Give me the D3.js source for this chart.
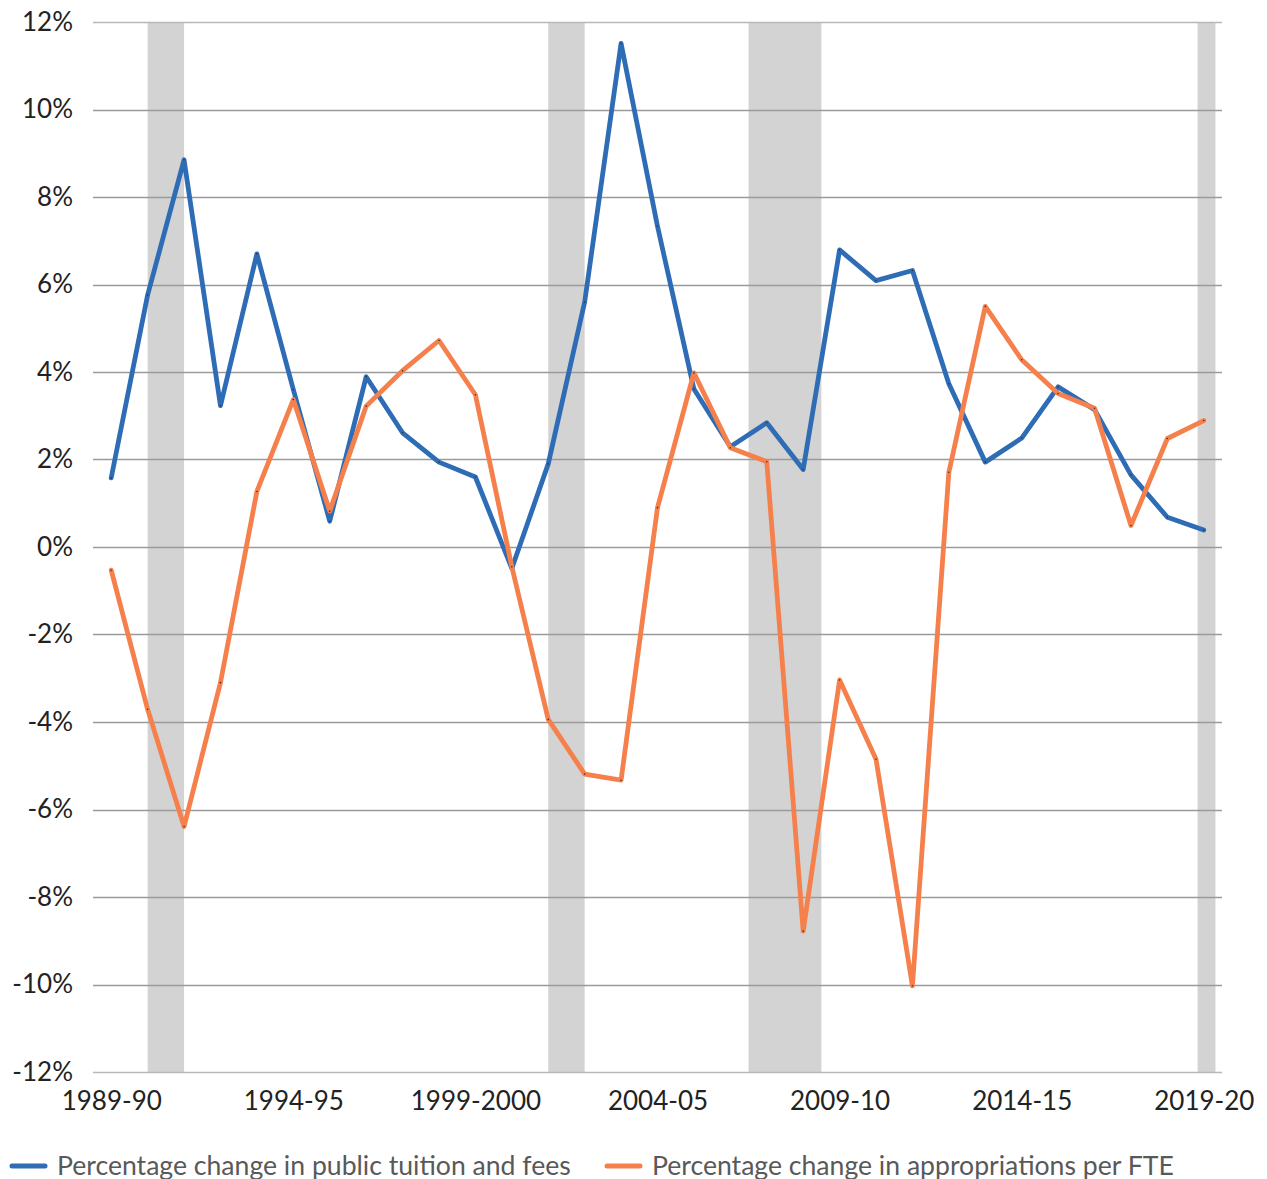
<!DOCTYPE html>
<html>
<head>
<meta charset="utf-8">
<script src="https://cdn.jsdelivr.net/npm/d3@7"></script>
<style>
  body { margin: 0; background: #fff; }
  svg { display: block; font-family: Lato, "Open Sans", sans-serif; }
</style>
</head>
<body>
<div id="content"></div>
<script>
// school years on the x axis
var years = ["1989-90","1990-91","1991-92","1992-93","1993-94","1994-95","1995-96","1996-97","1997-98","1998-99",
             "1999-2000","2000-01","2001-02","2002-03","2003-04","2004-05","2005-06","2006-07","2007-08","2008-09",
             "2009-10","2010-11","2011-12","2012-13","2013-14","2014-15","2015-16","2016-17","2017-18","2018-19","2019-20"];

// % change in public tuition and fees
var tuition = [1.58, 5.76, 8.85, 3.23, 6.7, 3.6, 0.59, 3.89, 2.61, 1.94,
               1.6, -0.49, 1.9, 5.6, 11.51, 7.33, 3.61, 2.29, 2.84, 1.77,
               6.79, 6.09, 6.32, 3.73, 1.94, 2.49, 3.66, 3.14, 1.65, 0.68, 0.39];

// % change in appropriations per FTE
var approp = [-0.53, -3.71, -6.39, -3.1, 1.27, 3.37, 0.82, 3.22, 4.03, 4.72,
              3.48, -0.45, -3.94, -5.19, -5.33, 0.9, 3.98, 2.27, 1.95, -8.78,
              -3.04, -4.85, -10.03, 1.71, 5.5, 4.28, 3.51, 3.17, 0.49, 2.48, 2.89];

// recession shading, in category positions
var recessionStart = [1, 12, 17.5, 29.83];
var recessionEnd   = [2, 13, 19.5, 30.32];

var yTicks = [-12, -10, -8, -6, -4, -2, 0, 2, 4, 6, 8, 10, 12];
var xTickYears = ["1989-90","1994-95","1999-2000","2004-05","2009-10","2014-15","2019-20"];

var seriesNames = ["Percentage change in public tuition and fees", "Percentage change in appropriations per FTE"];
var seriesColors = ["#2e6db6", "#f5804b"];

var width = 1267, height = 1179,
    plotLeft = 93, plotRight = 1222, plotTop = 22, plotBottom = 1072;

var svg = d3.select('#content').append('svg')
    .attr('width', width)
    .attr('height', height);

var x = d3.scaleLinear().domain([-0.5, years.length - 0.5]).range([plotLeft, plotRight]);
var y = d3.scaleLinear().domain([-12, 12]).range([plotBottom, plotTop]);

// recession bars
svg.append('g').selectAll('rect')
    .data(recessionStart)
    .enter().append('rect')
    .attr('x', function(d){ return x(d); })
    .attr('width', function(d, i){ return x(recessionEnd[i]) - x(d); })
    .attr('y', y(12))
    .attr('height', y(-12) - y(12))
    .attr('fill', '#d3d3d3');

// gridlines
svg.append('g').selectAll('line')
    .data(yTicks)
    .enter().append('line')
    .attr('x1', plotLeft).attr('x2', plotRight)
    .attr('y1', function(d){ return Math.round(y(d)) + 0.5; })
    .attr('y2', function(d){ return Math.round(y(d)) + 0.5; })
    .attr('stroke', function(d){ return d === 12 || d === -12 ? '#b8b8b8' : '#9a9a9a'; })
    .attr('stroke-width', 1.3);

// y axis
var yAxis = d3.axisLeft(y)
    .tickValues(yTicks)
    .tickSize(0)
    .tickPadding(20)
    .tickFormat(function(d){ return d + '%'; });

svg.append('g')
    .attr('transform', 'translate(' + plotLeft + ',0)')
    .call(yAxis)
    .call(function(g){ g.select('.domain').remove(); })
    .selectAll('text')
    .attr('font-size', 26)
    .attr('font-family', 'Lato, sans-serif')
    .attr('fill', '#222');

// x axis
var xAxis = d3.axisBottom(x)
    .tickValues(xTickYears.map(function(d){ return years.indexOf(d); }))
    .tickSize(0)
    .tickPadding(20)
    .tickFormat(function(i){ return years[i]; });

svg.append('g')
    .attr('transform', 'translate(0,' + plotBottom + ')')
    .call(xAxis)
    .call(function(g){ g.select('.domain').remove(); })
    .selectAll('text')
    .attr('font-size', 26)
    .attr('font-family', 'Lato, sans-serif')
    .attr('fill', '#222');

// lines
var line = d3.line()
    .x(function(d, i){ return x(i); })
    .y(function(d){ return y(d); });

[tuition, approp].forEach(function(s, k){
    svg.append('path')
        .datum(s)
        .attr('d', line)
        .attr('fill', 'none')
        .attr('stroke', seriesColors[k])
        .attr('stroke-width', 4.8)
        .attr('stroke-linejoin', 'round')
        .attr('stroke-linecap', 'round');

    svg.append('g').selectAll('circle')
        .data(s)
        .enter().append('circle')
        .attr('cx', function(d, i){ return x(i); })
        .attr('cy', function(d){ return y(d); })
        .attr('r', 0.8)
        .attr('fill', '#333');
});

// legend
var legendX = [12, 607];
var legend = svg.append('g').selectAll('g')
    .data(seriesNames)
    .enter().append('g')
    .attr('transform', function(d, i){ return 'translate(' + legendX[i] + ',1166)'; });

legend.append('line')
    .attr('x1', 0).attr('x2', 33)
    .attr('stroke', function(d, i){ return seriesColors[i]; })
    .attr('stroke-width', 5)
    .attr('stroke-linecap', 'round');

legend.append('text')
    .attr('x', 45)
    .attr('dy', '0.35em')
    .attr('font-size', 26.6)
    .attr('fill', '#595959')
    .text(function(d){ return d; });
</script>
</body>
</html>
